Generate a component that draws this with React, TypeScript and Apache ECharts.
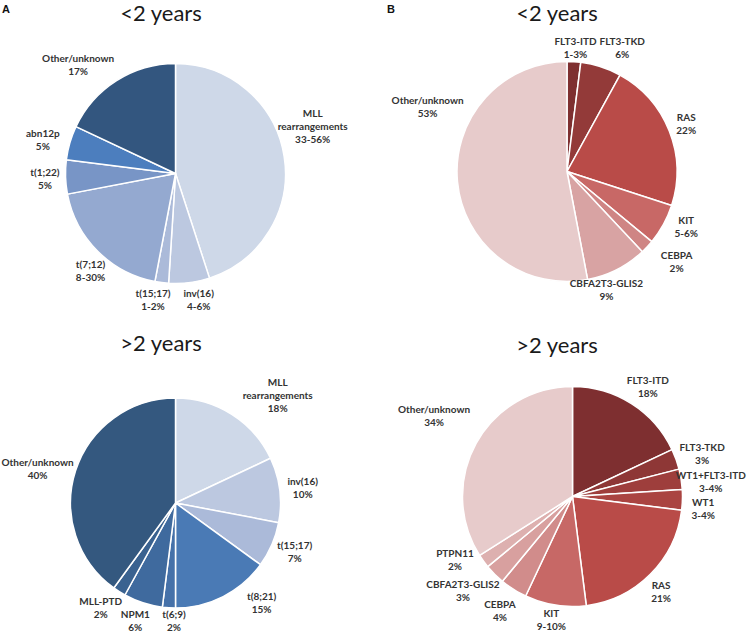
import React, { useEffect, useRef } from "react";
import * as echarts from "echarts";

// Panel A, <2 years (cytogenetics)
const aYoungNames = ["MLL\nrearrangements", "inv(16)", "t(15;17)", "t(7;12)", "t(1;22)", "abn12p", "Other/unknown"];
const aYoungLabels = ["33-56%", "4-6%", "1-2%", "8-30%", "5%", "5%", "17%"];
const aYoungValues = [45, 6, 2, 19, 5, 5, 18];
const aYoungColors = ["#CED8E8", "#BCC8E0", "#ABBAD9", "#94A9D0", "#7895C6", "#4C7EBE", "#33567F"];

// Panel A, >2 years
const aOldNames = ["MLL\nrearrangements", "inv(16)", "t(15;17)", "t(8;21)", "t(6;9)", "NPM1", "MLL-PTD", "Other/unknown"];
const aOldLabels = ["18%", "10%", "7%", "15%", "2%", "6%", "2%", "40%"];
const aOldValues = [18, 10, 7, 15, 2, 6, 2, 40];
const aOldColors = ["#CED8E8", "#BCC8E0", "#ABBAD9", "#4A7AB5", "#4571A9", "#3F6A9E", "#3A6290", "#34587F"];

// Panel B, <2 years (mutations)
const bYoungNames = ["FLT3-ITD", "FLT3-TKD", "RAS", "KIT", "CEBPA", "CBFA2T3-GLIS2", "Other/unknown"];
const bYoungLabels = ["1-3%", "6%", "22%", "5-6%", "2%", "9%", "53%"];
const bYoungValues = [2, 6, 22, 6, 2, 9, 53];
const bYoungColors = ["#7E2F30", "#933A39", "#B94B48", "#C86866", "#CF8584", "#D8A3A3", "#E7CBCB"];

// Panel B, >2 years
const bOldNames = ["FLT3-ITD", "FLT3-TKD", "WT1+FLT3-ITD", "WT1", "RAS", "KIT", "CEBPA", "CBFA2T3-GLIS2", "PTPN11", "Other/unknown"];
const bOldLabels = ["18%", "3%", "3-4%", "3-4%", "21%", "9-10%", "4%", "3%", "2%", "34%"];
const bOldValues = [18, 3, 3, 3, 21, 9, 4, 3, 2, 34];
const bOldColors = ["#7E2F30", "#8E3736", "#9E3E3C", "#AA4441", "#B94B48", "#C76866", "#D18C8B", "#D8A09F", "#DDB0AF", "#E7CBCB"];

const titles = ["<2 years", "<2 years", ">2 years", ">2 years"];
const panelLetters = ["A", "B"];

const FONT = "Lato, 'Open Sans', sans-serif";

type PieDef = {
  names: string[];
  labels: string[];
  values: number[];
  colors: string[];
  center: [number, number];
  radius: number;
  nudge: [number, number][];
};

// layout: pie geometry and small label nudges (Excel "best fit" placement)
const pies: PieDef[] = [
  {
    names: aYoungNames, labels: aYoungLabels, values: aYoungValues, colors: aYoungColors,
    center: [175.5, 173.5], radius: 110,
    nudge: [[-10, -27], [7, 0], [-6, 0], [6, 7], [-2, 1], [-7, 1], [-17, -2]],
  },
  {
    names: bYoungNames, labels: bYoungLabels, values: bYoungValues, colors: bYoungColors,
    center: [567, 171.5], radius: 110,
    nudge: [[0, 3], [13, -3], [4, -1], [9, -6], [15, 3], [-29, 5], [10, -77]],
  },
  {
    names: aOldNames, labels: aOldLabels, values: aOldValues, colors: aOldColors,
    center: [175.5, 503], radius: 105,
    nudge: [[25, 0], [4, 0], [3, 0], [30, -9], [6, -4], [-2, 1], [-5, 1], [0, 3]],
  },
  {
    names: bOldNames, labels: bOldLabels, values: bOldValues, colors: bOldColors,
    center: [572.5, 496.5], radius: 110,
    nudge: [[3, -3], [1, 0], [-9, 5], [5, 8], [1, 5], [-1, -2], [-3, 7], [-3, 4], [-10, -12], [-7, -20]],
  },
];

const LABEL_GAP = 4;

function midAngle(values: number[], idx: number) {
  const total = values.reduce((a, b) => a + b, 0);
  let before = 0;
  for (let i = 0; i < idx; i++) before += values[i];
  return ((before + values[idx] / 2) / total) * Math.PI * 2;
}

function pieSeries(def: PieDef) {
  return {
    type: "pie",
    center: def.center,
    radius: def.radius,
    startAngle: 90,
    clockwise: true,
    avoidLabelOverlap: false,
    itemStyle: { borderColor: "#ffffff", borderWidth: 1.5 },
    label: {
      show: true,
      position: "outside",
      formatter: (p: any) => `${p.name}\n${p.data.pct}`,
      color: "#333333",
      fontFamily: FONT,
      fontSize: 10,
      fontWeight: "bold",
      lineHeight: 13,
      bleedMargin: -400,
    },
    labelLine: { show: false, length: 4, length2: 2 },
    labelLayout: (p: any) => {
      const d = pies[p.seriesIndex];
      const a = midAngle(d.values, p.dataIndex);
      const ux = Math.sin(a);
      const uy = -Math.cos(a);
      const w = p.labelRect.width;
      const h = p.labelRect.height;
      const rr = d.radius + LABEL_GAP;
      const n = d.nudge[p.dataIndex] || [0, 0];
      return {
        x: d.center[0] + ux * rr + (ux * w) / 2 + n[0],
        y: d.center[1] + uy * rr + (uy * h) / 2 + n[1],
        align: "center",
        verticalAlign: "middle",
        hideOverlap: false,
      };
    },
    emphasis: { disabled: true },
    data: def.names.map((n, i) => ({
      name: n,
      value: def.values[i],
      pct: def.labels[i],
      itemStyle: { color: def.colors[i] },
    })),
  };
}

export default function App() {
  const ref = useRef<HTMLDivElement>(null);
  useEffect(() => {
    if (!ref.current) return;
    const chart = echarts.init(ref.current, undefined, { renderer: "svg" });
    const titleText = (text: string, x: number, y: number) => ({
      type: "text",
      x,
      y,
      style: { text, fill: "#1a1a1a", font: `22px ${FONT}`, textAlign: "center", textVerticalAlign: "top" },
    });
    const letter = (text: string, x: number) => ({
      type: "text",
      x,
      y: 9,
      style: { text, fill: "#111", font: `bold 11px Arial, 'Liberation Sans', sans-serif`, textAlign: "center", textVerticalAlign: "middle" },
    });
    chart.setOption({
      animation: false,
      backgroundColor: "#ffffff",
      graphic: [
        letter(panelLetters[0], 6),
        letter(panelLetters[1], 391),
        titleText(titles[0], 161, 1),
        titleText(titles[1], 557, 1),
        titleText(titles[2], 161, 331),
        titleText(titles[3], 557, 333),
      ],
      series: pies.map((d) => pieSeries(d)),
    });
    return () => chart.dispose();
  }, []);
  return <div ref={ref} style={{ position: "absolute", left: 0, top: 0, width: 749, height: 634 }} />;
}
